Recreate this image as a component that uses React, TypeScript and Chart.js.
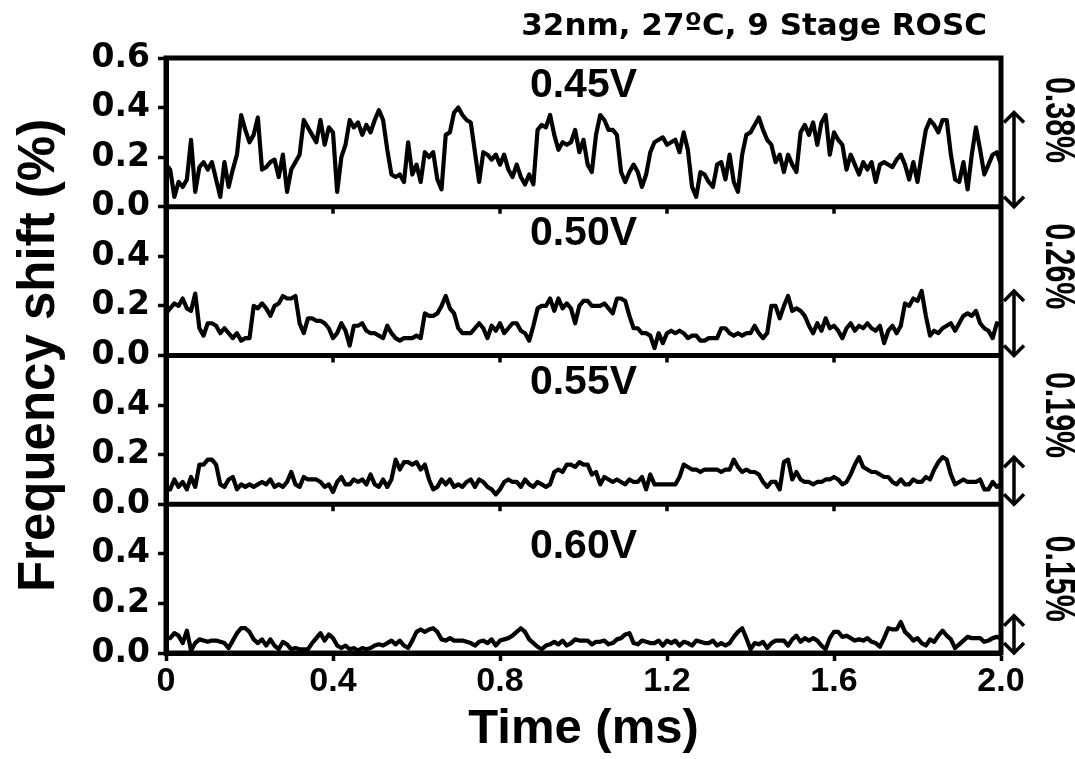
import React, { useEffect, useRef } from 'react';
import { Chart, registerables } from 'chart.js';

Chart.register(...registerables);

// ---- data ----
const TIME_STEP_MS = 0.01;
const chartTitle = '32nm, 27ºC, 9 Stage ROSC';
const xAxisTitle = 'Time (ms)';
const yAxisTitle = 'Frequency shift (%)';
const panelVoltages = ['0.45V', '0.50V', '0.55V', '0.60V'];
const panelSpreads = [0.38, 0.26, 0.19, 0.15];
const spreadLabels = ['0.38%', '0.26%', '0.19%', '0.15%'];
const voltageLabelY = [0.49, 0.49, 0.49, 0.43];
const spreadLabelY = [0.35, 0.36, 0.36, 0.3];
const xTickValues = [0, 0.4, 0.8, 1.2, 1.6, 2.0];
const xTickLabels = ['0', '0.4', '0.8', '1.2', '1.6', '2.0'];
const yTickValues = [0, 0.2, 0.4, 0.6];
const yTickLabels = ['0.0', '0.2', '0.4', '0.6'];

const shift045 = [
  0.17, 0.15, 0.04, 0.10, 0.08, 0.11, 0.27, 0.06, 0.16, 0.18,
  0.15, 0.18, 0.11, 0.04, 0.18, 0.08, 0.15, 0.21, 0.37, 0.31,
  0.26, 0.29, 0.36, 0.15, 0.16, 0.18, 0.19, 0.12, 0.21, 0.06,
  0.15, 0.18, 0.21, 0.35, 0.32, 0.29, 0.26, 0.35, 0.25, 0.32,
  0.30, 0.06, 0.20, 0.25, 0.35, 0.32, 0.34, 0.29, 0.33, 0.30,
  0.35, 0.39, 0.35, 0.23, 0.13, 0.12, 0.13, 0.10, 0.26, 0.13,
  0.17, 0.10, 0.22, 0.20, 0.22, 0.11, 0.07, 0.29, 0.30, 0.38,
  0.40, 0.37, 0.35, 0.34, 0.22, 0.10, 0.22, 0.21, 0.19, 0.21,
  0.17, 0.21, 0.15, 0.12, 0.17, 0.12, 0.09, 0.13, 0.09, 0.31,
  0.33, 0.32, 0.37, 0.29, 0.23, 0.26, 0.25, 0.26, 0.31, 0.22,
  0.27,
  0.17, 0.14, 0.29, 0.37, 0.35, 0.31, 0.31, 0.29, 0.14, 0.10,
  0.14, 0.17, 0.14, 0.08, 0.13, 0.22, 0.26, 0.27, 0.28, 0.25,
  0.26, 0.27, 0.22, 0.30, 0.23, 0.08, 0.04, 0.14, 0.13, 0.10,
  0.08, 0.17, 0.18, 0.11, 0.21, 0.10, 0.06, 0.21, 0.29, 0.30,
  0.33, 0.36, 0.31, 0.27, 0.25, 0.18, 0.21, 0.14, 0.21, 0.17,
  0.14, 0.30, 0.33, 0.29, 0.34, 0.25, 0.34, 0.37, 0.21, 0.30,
  0.27, 0.25, 0.15, 0.21, 0.17, 0.13, 0.18, 0.15, 0.18, 0.10,
  0.17, 0.18, 0.17, 0.16, 0.19, 0.21, 0.17, 0.11, 0.18, 0.10,
  0.21, 0.31, 0.35, 0.33, 0.30, 0.35, 0.35, 0.21, 0.11, 0.10,
  0.18, 0.07, 0.21, 0.32, 0.23, 0.13, 0.17, 0.21, 0.22, 0.17,
];

const shift050 = [
  0.17, 0.19, 0.21, 0.20, 0.23, 0.19, 0.18, 0.25, 0.11, 0.08,
  0.13, 0.13, 0.12, 0.09, 0.11, 0.09, 0.07, 0.09, 0.06, 0.07,
  0.07, 0.20, 0.19, 0.21, 0.19, 0.16, 0.20, 0.21, 0.24, 0.23,
  0.23, 0.24, 0.13, 0.09, 0.15, 0.15, 0.14, 0.14, 0.13, 0.11,
  0.07, 0.09, 0.13, 0.10, 0.04, 0.12, 0.12, 0.13, 0.10, 0.09,
  0.09, 0.08, 0.07, 0.12, 0.09, 0.07, 0.06, 0.07, 0.07, 0.07,
  0.08, 0.07, 0.17, 0.16, 0.16, 0.17, 0.20, 0.24, 0.19, 0.17,
  0.11, 0.09, 0.09, 0.09, 0.11, 0.13, 0.11, 0.07, 0.12, 0.10,
  0.13, 0.09, 0.11, 0.13, 0.13, 0.10, 0.09, 0.06, 0.12, 0.19,
  0.20, 0.20, 0.23, 0.18, 0.23, 0.19, 0.21, 0.19, 0.13, 0.20,
  0.22,
  0.22, 0.20, 0.20, 0.20, 0.21, 0.19, 0.17, 0.23, 0.23, 0.22,
  0.16, 0.11, 0.11, 0.09, 0.09, 0.08, 0.03, 0.09, 0.05, 0.09,
  0.10, 0.09, 0.10, 0.09, 0.07, 0.08, 0.08, 0.06, 0.06, 0.07,
  0.07, 0.07, 0.11, 0.11, 0.09, 0.08, 0.09, 0.08, 0.09, 0.09,
  0.12, 0.09, 0.07, 0.09, 0.20, 0.20, 0.15, 0.20, 0.24, 0.18,
  0.19, 0.18, 0.16, 0.12, 0.09, 0.13, 0.10, 0.15, 0.11, 0.12,
  0.10, 0.07, 0.11, 0.13, 0.10, 0.12, 0.11, 0.13, 0.11, 0.10,
  0.12, 0.05, 0.10, 0.12, 0.09, 0.12, 0.21, 0.20, 0.23, 0.22,
  0.26, 0.16, 0.08, 0.10, 0.09, 0.11, 0.12, 0.13, 0.10, 0.13,
  0.16, 0.17, 0.16, 0.18, 0.13, 0.11, 0.10, 0.07, 0.13, 0.12,
];

const shift055 = [
  0.06, 0.06, 0.10, 0.07, 0.09, 0.06, 0.11, 0.07, 0.16, 0.16,
  0.18, 0.18, 0.16, 0.08, 0.07, 0.10, 0.11, 0.06, 0.08, 0.07,
  0.08, 0.07, 0.08, 0.09, 0.08, 0.10, 0.07, 0.08, 0.07, 0.09,
  0.13, 0.08, 0.07, 0.11, 0.10, 0.10, 0.10, 0.09, 0.07, 0.08,
  0.05, 0.09, 0.11, 0.08, 0.08, 0.10, 0.09, 0.10, 0.08, 0.12,
  0.08, 0.07, 0.10, 0.07, 0.10, 0.18, 0.14, 0.17, 0.17, 0.16,
  0.17, 0.14, 0.16, 0.10, 0.06, 0.07, 0.10, 0.08, 0.10, 0.07,
  0.08, 0.07, 0.09, 0.10, 0.07, 0.10, 0.09, 0.07, 0.06, 0.04,
  0.06, 0.09, 0.10, 0.09, 0.09, 0.07, 0.10, 0.08, 0.07, 0.09,
  0.08, 0.07, 0.08, 0.13, 0.14, 0.13, 0.16, 0.16, 0.15, 0.17,
  0.16,
  0.16, 0.12, 0.13, 0.08, 0.11, 0.10, 0.09, 0.10, 0.09, 0.08,
  0.10, 0.09, 0.09, 0.11, 0.06, 0.12, 0.08, 0.08, 0.08, 0.08,
  0.08, 0.08, 0.11, 0.16, 0.15, 0.14, 0.14, 0.13, 0.14, 0.14,
  0.14, 0.14, 0.13, 0.14, 0.14, 0.18, 0.15, 0.13, 0.14, 0.13,
  0.13, 0.12, 0.09, 0.07, 0.09, 0.09, 0.06, 0.17, 0.18, 0.10,
  0.13, 0.10, 0.09, 0.09, 0.08, 0.09, 0.09, 0.10, 0.10, 0.11,
  0.10, 0.08, 0.09, 0.12, 0.16, 0.19, 0.15, 0.14, 0.13, 0.13,
  0.12, 0.11, 0.11, 0.09, 0.08, 0.10, 0.08, 0.08, 0.10, 0.09,
  0.09, 0.11, 0.10, 0.14, 0.17, 0.19, 0.18, 0.12, 0.08, 0.09,
  0.10, 0.09, 0.09, 0.09, 0.10, 0.06, 0.06, 0.09, 0.07, 0.08,
];

const shift060 = [
  0.06, 0.06, 0.08, 0.07, 0.04, 0.09, 0.01, 0.04, 0.055, 0.05,
  0.045, 0.05, 0.05, 0.045, 0.04, 0.02, 0.05, 0.08, 0.10, 0.10,
  0.085, 0.055, 0.04, 0.055, 0.03, 0.055, 0.03, 0.015, 0.045, 0.035,
  0.015, 0.02, 0.015, 0.015, 0.015, 0.04, 0.06, 0.08, 0.05, 0.075,
  0.06, 0.03, 0.02, 0.03, 0.015, 0.02, 0.01, 0.02, 0.015, 0.02,
  0.03, 0.035, 0.03, 0.04, 0.05, 0.035, 0.05, 0.03, 0.02, 0.05,
  0.085, 0.095, 0.085, 0.095, 0.10, 0.085, 0.055, 0.05, 0.06, 0.05,
  0.05, 0.05, 0.045, 0.04, 0.03, 0.045, 0.05, 0.04, 0.055, 0.03,
  0.05, 0.055, 0.06, 0.07, 0.085, 0.10, 0.085, 0.055, 0.04, 0.025,
  0.015, 0.03, 0.035, 0.045, 0.035, 0.05, 0.03, 0.04, 0.055, 0.05,
  0.05,
  0.05, 0.035, 0.045, 0.045, 0.05, 0.035, 0.04, 0.055, 0.06, 0.075,
  0.08, 0.04, 0.035, 0.05, 0.045, 0.04, 0.04, 0.05, 0.03, 0.05,
  0.04, 0.05, 0.03, 0.045, 0.04, 0.03, 0.05, 0.045, 0.04, 0.04,
  0.05, 0.03, 0.04, 0.03, 0.04, 0.065, 0.085, 0.10, 0.06, 0.015,
  0.04, 0.035, 0.045, 0.02, 0.04, 0.05, 0.05, 0.05, 0.03, 0.055,
  0.07, 0.045, 0.06, 0.05, 0.06, 0.05, 0.03, 0.015, 0.06, 0.085,
  0.085, 0.065, 0.07, 0.06, 0.05, 0.055, 0.05, 0.06, 0.045, 0.04,
  0.025, 0.06, 0.10, 0.095, 0.095, 0.125, 0.085, 0.07, 0.05, 0.06,
  0.04, 0.03, 0.055, 0.045, 0.07, 0.09, 0.07, 0.055, 0.02, 0.035,
  0.05, 0.065, 0.06, 0.06, 0.06, 0.045, 0.05, 0.06, 0.065, 0.06,
];

const panelSeries = [shift045, shift050, shift055, shift060];
const panelIds = ['p0', 'p1', 'p2', 'p3'];

const FONT = "'Liberation Sans', Arial, Helvetica, sans-serif";
const WIDE = "'DejaVu Sans', Verdana, sans-serif";

const findIndex = (arr: number[], v: number) => arr.findIndex((t) => Math.abs(t - v) < 1e-6);

const decorPlugin = {
  id: 'decor',
  afterDatasetsDraw(chart: any) {
    const { ctx, chartArea: a, scales } = chart;
    const xs = scales.x;
    const line = (x1: number, y1: number, x2: number, y2: number) => {
      ctx.beginPath();
      ctx.moveTo(x1, y1);
      ctx.lineTo(x2, y2);
      ctx.stroke();
    };
    ctx.save();
    ctx.strokeStyle = '#000';
    ctx.fillStyle = '#000';
    ctx.lineCap = 'butt';
    ctx.lineWidth = 5;
    ctx.strokeRect(a.left, a.top, a.right - a.left, a.bottom - a.top);

    panelIds.forEach((id, p) => {
      const ys = scales[id];
      const y0 = ys.getPixelForValue(0);
      if (p < panelIds.length - 1) {
        ctx.lineWidth = 5;
        line(a.left, y0, a.right, y0);
        ctx.lineWidth = 3.5;
        xTickValues.forEach((v) => {
          const x = xs.getPixelForValue(v);
          line(x, y0, x, y0 + 7);
        });
      }
      // voltage label
      ctx.font = `bold 41px ${FONT}`;
      ctx.textAlign = 'center';
      ctx.textBaseline = 'middle';
      ctx.fillText(panelVoltages[p], xs.getPixelForValue(1.0), ys.getPixelForValue(voltageLabelY[p]));

      // double arrow showing spread
      const ax = a.right + 13;
      const yTop = ys.getPixelForValue(panelSpreads[p]);
      ctx.lineWidth = 3.5;
      ctx.lineJoin = 'miter';
      line(ax, yTop + 1, ax, y0 - 1);
      ctx.beginPath();
      ctx.moveTo(ax - 10, yTop + 10);
      ctx.lineTo(ax, yTop);
      ctx.lineTo(ax + 10, yTop + 10);
      ctx.stroke();
      ctx.beginPath();
      ctx.moveTo(ax - 10, y0 - 10);
      ctx.lineTo(ax, y0);
      ctx.lineTo(ax + 10, y0 - 10);
      ctx.stroke();

      // rotated spread label
      ctx.save();
      ctx.translate(a.right + 56, ys.getPixelForValue(spreadLabelY[p]));
      ctx.rotate(Math.PI / 2);
      ctx.scale(0.95, 1.3);
      ctx.font = `bold 32px ${FONT}`;
      ctx.textAlign = 'center';
      ctx.textBaseline = 'middle';
      ctx.fillText(spreadLabels[p], 0, 0);
      ctx.restore();
    });

    // y axis title
    ctx.save();
    ctx.translate(40, (a.top + a.bottom) / 2);
    ctx.rotate(-Math.PI / 2);
    ctx.font = `bold 51px ${FONT}`;
    ctx.textAlign = 'center';
    ctx.textBaseline = 'middle';
    ctx.fillText(yAxisTitle, 0, 0);
    ctx.restore();

    // top title
    ctx.font = `bold 31px ${WIDE}`;
    ctx.textAlign = 'right';
    ctx.textBaseline = 'middle';
    ctx.fillText(chartTitle, a.right - 14, a.top - 31);
    ctx.restore();
  },
};

export default function App() {
  const canvasRef = useRef<HTMLCanvasElement>(null);

  useEffect(() => {
    const canvas = canvasRef.current;
    if (!canvas) return;

    const datasets = panelSeries.map((vals, p) => ({
      label: panelVoltages[p],
      data: vals.map((v, i) => ({ x: i * TIME_STEP_MS, y: v })),
      yAxisID: panelIds[p],
      borderColor: '#000',
      backgroundColor: '#000',
      borderWidth: 4.2,
      pointRadius: 0,
      tension: 0,
      fill: false,
      borderJoinStyle: 'round',
      borderCapStyle: 'round',
    }));

    const scales: any = {};
    // left boxes are stacked with the last-defined axis at the top
    for (let p = panelIds.length - 1; p >= 0; p--) {
      const tickVals = p === 0 ? yTickValues : yTickValues.slice(0, 3);
      scales[panelIds[p]] = {
        type: 'linear',
        position: 'left',
        stack: 'panels',
        stackWeight: 1,
        offset: false,
        min: 0,
        max: 0.6,
        afterBuildTicks: (s: any) => {
          s.ticks = tickVals.map((v) => ({ value: v }));
        },
        afterFit: (s: any) => {
          s.width = 166;
        },
        ticks: {
          autoSkip: false,
          font: { family: WIDE, size: 33, weight: 'bold' },
          color: '#000',
          padding: 8,
          callback: (v: number) => {
            const k = findIndex(yTickValues, v);
            return k >= 0 ? yTickLabels[k] : '';
          },
        },
        grid: { drawOnChartArea: false, tickLength: 8, tickWidth: 3.5, tickColor: '#000' },
        border: { display: true, color: '#000', width: 5 },
      };
    }
    scales.x = {
      type: 'linear',
      position: 'bottom',
      min: 0,
      max: 2,
      afterBuildTicks: (s: any) => {
        s.ticks = xTickValues.map((v) => ({ value: v }));
      },
      afterFit: (s: any) => {
        s.height = 106;
      },
      ticks: {
        autoSkip: false,
        maxRotation: 0,
        font: { family: FONT, size: 34, weight: 'bold' },
        color: '#000',
        padding: 0,
        callback: (v: number) => {
          const k = findIndex(xTickValues, v);
          return k >= 0 ? xTickLabels[k] : '';
        },
      },
      grid: { drawOnChartArea: false, tickLength: 8, tickWidth: 3.5, tickColor: '#000' },
      border: { display: true, color: '#000', width: 5 },
      title: {
        display: true,
        text: xAxisTitle,
        color: '#000',
        font: { family: FONT, size: 49, weight: 'bold' },
        padding: { top: 0, bottom: 0 },
      },
    };

    const chart = new Chart(canvas, {
      type: 'line',
      data: { datasets: datasets as any },
      options: {
        animation: false,
        responsive: false,
        devicePixelRatio: 1,
        parsing: false as any,
        normalized: true,
        layout: { padding: { top: 58, right: 74, bottom: 0, left: 0 } },
        plugins: { legend: { display: false }, tooltip: { enabled: false }, title: { display: false } },
        scales,
      } as any,
      plugins: [decorPlugin],
    });

    return () => chart.destroy();
  }, []);

  return (
    <div style={{ position: 'fixed', left: 0, top: 0, width: 1075, height: 759, background: '#fff' }}>
      <canvas ref={canvasRef} width={1075} height={759} style={{ width: 1075, height: 759, display: 'block' }} />
    </div>
  );
}
